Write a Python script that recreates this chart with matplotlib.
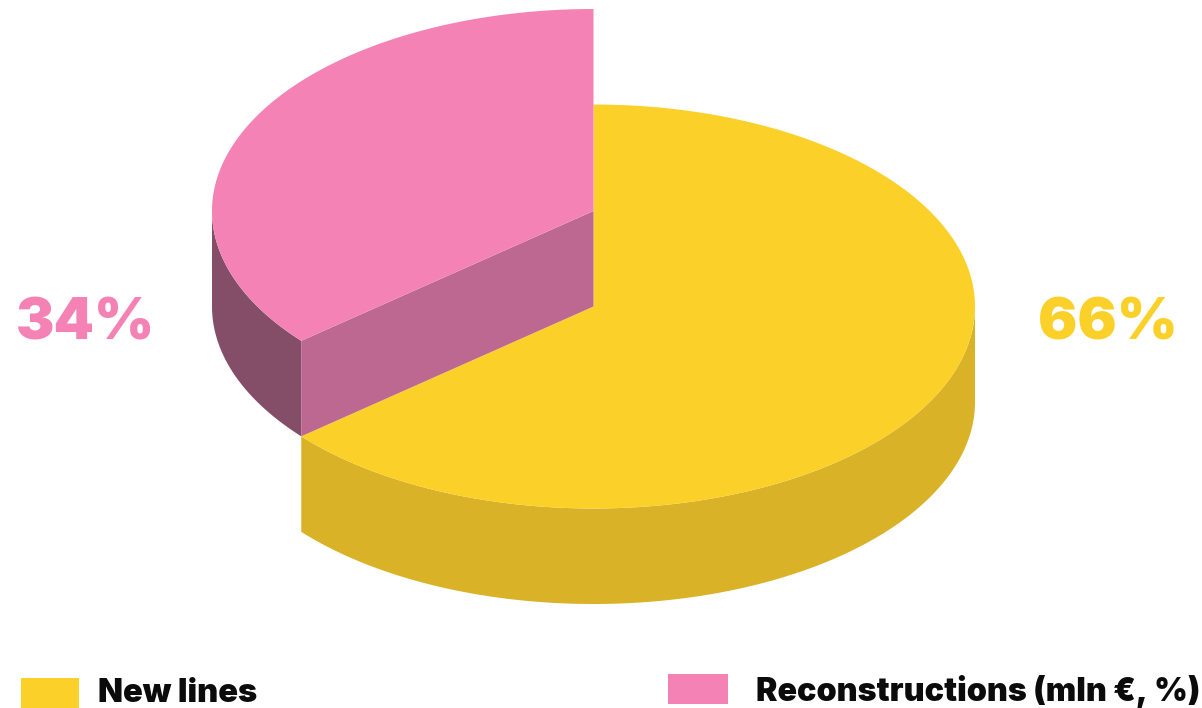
import numpy as np
import matplotlib
matplotlib.use('Agg')
import matplotlib.pyplot as plt
from matplotlib.patches import Polygon, Rectangle

plt.rcParams['font.family'] = ['Inter', 'DejaVu Sans']

names = ['New lines', 'Reconstructions (mln €, %)']
shares = [66, 34]
# the picture draws the slices at these angles, not exactly at their shares
sweep = [230, 130]
top_colors = ['#FBD028', '#F482B5']
inner_colors = ['#DAB228', '#BC6890']
outer_colors = ['#DAB228', '#844E69']

cx, cy = 593.5, 306.5
rx, ry = 381.5, 202
depth = 95.5
lift = 95.5


def rim(a, b, y0):
    # clockwise from 12 o'clock, y goes down on screen
    t = np.radians(np.linspace(a, b, 300))
    return np.column_stack([cx + rx * np.sin(t), y0 - ry * np.cos(t)])


fig = plt.figure(figsize=(12.02, 7.08), dpi=100)
ax = fig.add_axes([0, 0, 1, 1])
ax.set_xlim(0, 1202)
ax.set_ylim(708, 0)
ax.axis('off')

# yellow slice
a0, a1 = 0, sweep[0]
front = rim(90, a1, cy)
wall = np.vstack([front, front[::-1] + [0, depth]])
ax.add_patch(Polygon(wall, fc=outer_colors[0], ec='none'))
ax.add_patch(Polygon(np.vstack([[cx, cy], rim(a0, a1, cy)]), fc=top_colors[0], ec='none'))

# pink slice, lifted up
a2 = 360
py = cy - lift
outer = rim(a1, 270, py)
ax.add_patch(Polygon(np.vstack([outer, outer[::-1] + [0, depth]]), fc=outer_colors[1], ec='none'))
edge = rim(a1, a1, py)[0]
cut = np.array([[cx, py], edge, edge + [0, depth], [cx, py + depth]])
ax.add_patch(Polygon(cut, fc=inner_colors[1], ec='none'))
ax.add_patch(Polygon(np.vstack([[cx, py], rim(a1, a2, py)]), fc=top_colors[1], ec='none'))

ax.text(1107.5, 325, f'{shares[0]}%', color=top_colors[0], fontsize=42, fontweight='black', ha='center', va='center')
ax.text(85.5, 325, f'{shares[1]}%', color=top_colors[1], fontsize=41.5, fontweight='black', ha='center', va='center')

ax.add_patch(Rectangle((21, 678), 58, 30, fc=top_colors[0], ec='none'))
ax.add_patch(Rectangle((668, 674), 60, 30, fc=top_colors[1], ec='none'))
ax.text(98, 694, names[0], fontsize=23.5, fontweight='black', color='#0B0B0B', va='center')
ax.text(756, 692, names[1], fontsize=23.2, fontweight='black', color='#0B0B0B', va='center')

fig.savefig('out.png', dpi=100)
